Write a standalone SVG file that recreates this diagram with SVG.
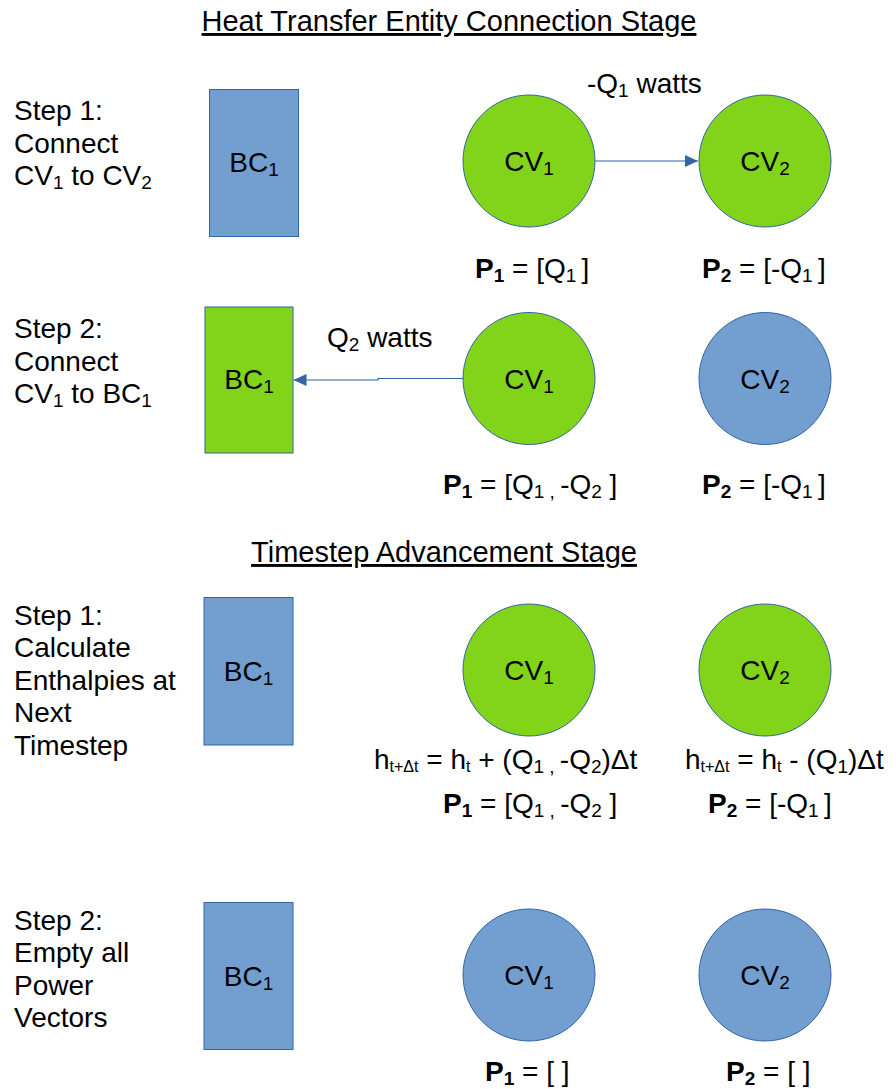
<svg xmlns="http://www.w3.org/2000/svg" width="896" height="1089" viewBox="0 0 896 1089">
  <defs>
    <style>
      text { font-family: "Liberation Sans", Arial, sans-serif; font-size: 28px; fill: #000; }
      .title { font-size: 29px; text-decoration: underline; }
      .lbl { text-anchor: middle; }
      .step { font-size: 28px; }
      .sub { font-size: 19px; }
      .tiny { font-size: 16px; }
      .b { font-weight: bold; }
      .blue { fill: #729fcf; stroke: #3465a4; stroke-width: 1; }
      .green { fill: #81d41a; stroke: #3465a4; stroke-width: 1; }
      .wire { fill: none; stroke: #3465a4; stroke-width: 1.2; }
    </style>
    <marker id="arrow" viewBox="0 0 13 12" refX="13" refY="6" markerWidth="13" markerHeight="12" markerUnits="userSpaceOnUse" orient="auto">
      <path d="M0,0 L13,6 L0,12 Z" fill="#3465a4"/>
    </marker>
  </defs>

  <rect width="896" height="1089" fill="#fff"/>

  <!-- Stage headings -->
  <text class="title" x="449" y="31" text-anchor="middle">Heat Transfer Entity Connection Stage</text>
  <text class="title" x="444" y="562" text-anchor="middle">Timestep Advancement Stage</text>

  <!-- Step descriptions -->
  <g id="step-text">
    <text class="step" x="14" y="120">Step 1:</text>
    <text class="step" x="14" y="152.5">Connect</text>
    <text class="step" x="14" y="185">CV<tspan class="sub" dy="4">1</tspan><tspan dy="-4"> to CV</tspan><tspan class="sub" dy="4">2</tspan></text>

    <text class="step" x="14" y="338">Step 2:</text>
    <text class="step" x="14" y="370.5">Connect</text>
    <text class="step" x="14" y="403">CV<tspan class="sub" dy="4">1</tspan><tspan dy="-4"> to BC</tspan><tspan class="sub" dy="4">1</tspan></text>

    <text class="step" x="14" y="625">Step 1:</text>
    <text class="step" x="14" y="657">Calculate</text>
    <text class="step" x="14" y="689.5">Enthalpies at</text>
    <text class="step" x="14" y="722">Next</text>
    <text class="step" x="14" y="754.5">Timestep</text>

    <text class="step" x="14" y="929.5">Step 2:</text>
    <text class="step" x="14" y="962">Empty all</text>
    <text class="step" x="14" y="994.5">Power</text>
    <text class="step" x="14" y="1027">Vectors</text>
  </g>

  <!-- Connection stage, step 1 -->
  <g id="bc1-a">
    <rect class="blue" x="209.5" y="89.5" width="89" height="147"/>
    <text class="lbl" x="254" y="172">BC<tspan class="sub" dy="4">1</tspan></text>
  </g>
  <g id="cv1-a">
    <circle class="green" cx="529" cy="161" r="66"/>
    <text class="lbl" x="529" y="171">CV<tspan class="sub" dy="4">1</tspan></text>
    <text x="475" y="278"><tspan class="b">P</tspan><tspan class="b sub" dy="4">1</tspan><tspan dy="-4"> = [Q</tspan><tspan class="sub" dy="4">1 </tspan><tspan dy="-4">]</tspan></text>
  </g>
  <g id="cv2-a">
    <circle class="green" cx="765" cy="161" r="66"/>
    <text class="lbl" x="765" y="171">CV<tspan class="sub" dy="4">2</tspan></text>
    <text x="702" y="278"><tspan class="b">P</tspan><tspan class="b sub" dy="4">2</tspan><tspan dy="-4"> = [-Q</tspan><tspan class="sub" dy="4">1 </tspan><tspan dy="-4">]</tspan></text>
  </g>

  <!-- Connection stage, step 2 -->
  <g id="bc1-b">
    <rect class="green" x="205" y="307" width="88" height="146"/>
    <text class="lbl" x="249" y="389">BC<tspan class="sub" dy="4">1</tspan></text>
  </g>
  <g id="cv1-b">
    <circle class="green" cx="529" cy="378.5" r="66"/>
    <text class="lbl" x="529" y="388.5">CV<tspan class="sub" dy="4">1</tspan></text>
    <text x="443" y="494"><tspan class="b">P</tspan><tspan class="b sub" dy="4">1</tspan><tspan dy="-4"> = [Q</tspan><tspan class="sub" dy="4">1 , </tspan><tspan dy="-4">-Q</tspan><tspan class="sub" dy="4">2</tspan><tspan dy="-4"> ]</tspan></text>
  </g>
  <g id="cv2-b">
    <circle class="blue" cx="765" cy="378.5" r="66"/>
    <text class="lbl" x="765" y="388.5">CV<tspan class="sub" dy="4">2</tspan></text>
    <text x="702" y="494"><tspan class="b">P</tspan><tspan class="b sub" dy="4">2</tspan><tspan dy="-4"> = [-Q</tspan><tspan class="sub" dy="4">1 </tspan><tspan dy="-4">]</tspan></text>
  </g>

  <!-- Timestep stage, step 1 -->
  <g id="bc1-c">
    <rect class="blue" x="204" y="597.5" width="89" height="147.5"/>
    <text class="lbl" x="248.5" y="681">BC<tspan class="sub" dy="4">1</tspan></text>
  </g>
  <g id="cv1-c">
    <circle class="green" cx="529" cy="670" r="66"/>
    <text class="lbl" x="529" y="680">CV<tspan class="sub" dy="4">1</tspan></text>
    <text x="374" y="769">h<tspan class="tiny" dy="3">t+Δt</tspan><tspan dy="-3"> = h</tspan><tspan class="tiny" dy="3">t</tspan><tspan dy="-3"> + (Q</tspan><tspan class="sub" dy="4">1 , </tspan><tspan dy="-4">-Q</tspan><tspan class="sub" dy="4">2</tspan><tspan dy="-4">)Δt</tspan></text>
    <text x="443" y="813"><tspan class="b">P</tspan><tspan class="b sub" dy="4">1</tspan><tspan dy="-4"> = [Q</tspan><tspan class="sub" dy="4">1 , </tspan><tspan dy="-4">-Q</tspan><tspan class="sub" dy="4">2</tspan><tspan dy="-4"> ]</tspan></text>
  </g>
  <g id="cv2-c">
    <circle class="green" cx="765" cy="670" r="66"/>
    <text class="lbl" x="765" y="680">CV<tspan class="sub" dy="4">2</tspan></text>
    <text x="685" y="769">h<tspan class="tiny" dy="3">t+Δt</tspan><tspan dy="-3"> = h</tspan><tspan class="tiny" dy="3">t</tspan><tspan dy="-3"> - (Q</tspan><tspan class="sub" dy="4">1</tspan><tspan dy="-4">)Δt</tspan></text>
    <text x="708" y="813"><tspan class="b">P</tspan><tspan class="b sub" dy="4">2</tspan><tspan dy="-4"> = [-Q</tspan><tspan class="sub" dy="4">1 </tspan><tspan dy="-4">]</tspan></text>
  </g>

  <!-- Timestep stage, step 2 -->
  <g id="bc1-d">
    <rect class="blue" x="204" y="902.5" width="89" height="147"/>
    <text class="lbl" x="248.5" y="986">BC<tspan class="sub" dy="4">1</tspan></text>
  </g>
  <g id="cv1-d">
    <circle class="blue" cx="529" cy="975" r="66"/>
    <text class="lbl" x="529" y="985">CV<tspan class="sub" dy="4">1</tspan></text>
    <text x="485" y="1081"><tspan class="b">P</tspan><tspan class="b sub" dy="4">1</tspan><tspan dy="-4"> = [ ]</tspan></text>
  </g>
  <g id="cv2-d">
    <circle class="blue" cx="765" cy="975" r="66"/>
    <text class="lbl" x="765" y="985">CV<tspan class="sub" dy="4">2</tspan></text>
    <text x="726" y="1081"><tspan class="b">P</tspan><tspan class="b sub" dy="4">2</tspan><tspan dy="-4"> = [ ]</tspan></text>
  </g>

  <!-- Heat flow connectors -->
  <g id="connectors">
    <path class="wire" d="M595,161 H698" marker-end="url(#arrow)"/>
    <text x="587" y="93">-Q<tspan class="sub" dy="4">1</tspan><tspan dy="-4"> watts</tspan></text>
    <path class="wire" d="M463,378.5 H378 V380 H293.5" marker-end="url(#arrow)"/>
    <text x="327" y="347">Q<tspan class="sub" dy="4">2</tspan><tspan dy="-4"> watts</tspan></text>
  </g>
</svg>
